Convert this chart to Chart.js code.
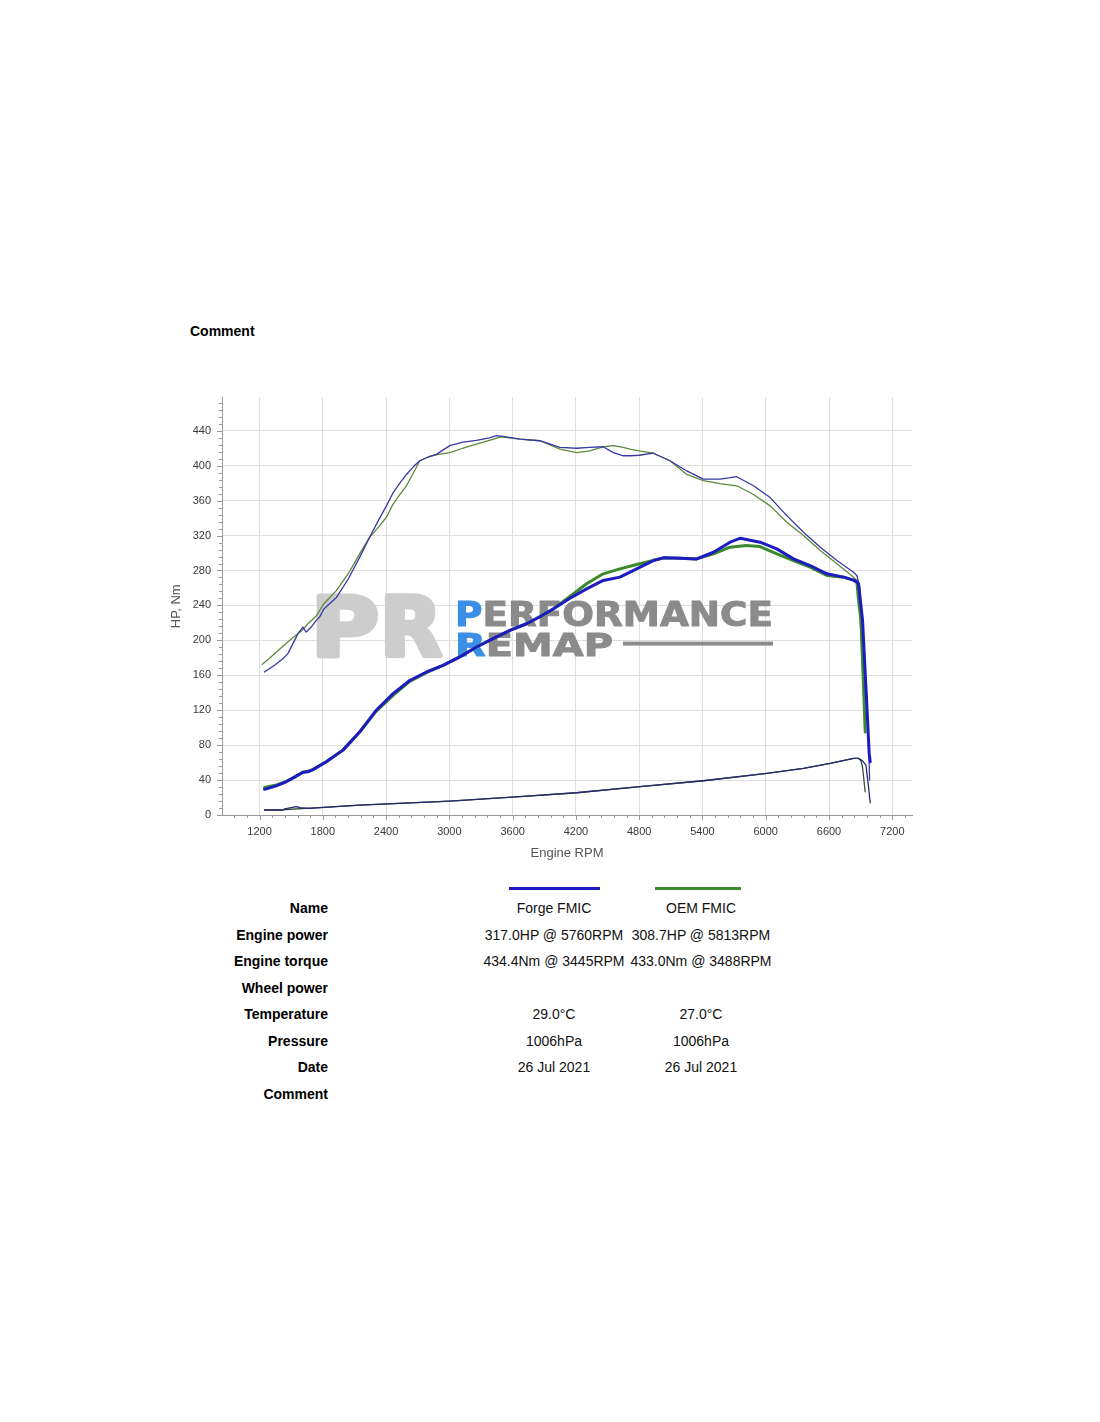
<!DOCTYPE html>
<html>
<head>
<meta charset="utf-8">
<title>Forge FMIC vs OEM FMIC</title>
<script src="https://cdn.jsdelivr.net/npm/chart.js@4.4.1/dist/chart.umd.min.js"></script>
<style>
  html, body { margin: 0; padding: 0; background: #fff; }
  body { position: relative; width: 1100px; height: 1422px; font-family: "Liberation Sans", Arial, sans-serif; color: #000; }
  #comment { position: absolute; left: 190px; top: 322px; font-weight: bold; font-size: 14px; line-height: 18px; }
  #wrap { position: absolute; left: 160px; top: 380px; width: 760px; height: 500px; }
  .swatch { position: absolute; top: 887px; height: 3px; }
  #table { position: absolute; left: 0; top: 895px; width: 1100px; }
  .row { position: relative; height: 26.5px; line-height: 26.5px; font-size: 14px; white-space: nowrap; }
  .row .lab { position: absolute; left: 128px; width: 200px; text-align: right; font-weight: bold; }
  .row .v1 { position: absolute; left: 471px; width: 166px; text-align: center; color: #111; }
  .row .v2 { position: absolute; left: 618px; width: 166px; text-align: center; color: #111; }
</style>
</head>
<body>
<div id="comment">Comment</div>
<div id="wrap"><canvas id="dyno" width="760" height="500"></canvas></div>
<div class="swatch" id="swForge"></div>
<div class="swatch" id="swOem"></div>
<div id="table"></div>

<script>
// ---- run names and colours ----
const runNames = ['Forge FMIC', 'OEM FMIC'];
const forgeColor = '#1c1cc0';
const oemColor = '#3a8a2c';
const forgeTorqueColor = '#3838a6';
const oemTorqueColor = '#5a8a3c';
const forgeLossColor = '#28286e';
const oemLossColor = '#354f36';

// ---- axis ticks ----
const rpmTicks = [1200, 1800, 2400, 3000, 3600, 4200, 4800, 5400, 6000, 6600, 7200];
const valueTicks = [0, 40, 80, 120, 160, 200, 240, 280, 320, 360, 400, 440];

// ---- Forge FMIC: engine torque (Nm) ----
const forgeTorqueRpm = [1247,1342,1421,1469,1532,1564,1611,1643,1690,1738,1770,1810,1928,2040,2149,2244,2330,2403,2466,2530,2593,2660,2719,2800,2877,3004,3130,3257,3380,3445,3510,3668,3858,4048,4206,4330,4459,4554,4650,4712,4800,4934,5092,5251,5409,5567,5650,5725,5884,6042,6200,6358,6517,6675,6833,6865,6890,6918,6950,6975,6985];
const forgeTorque = [163.8,171.4,179,184.8,200,207.6,215.2,209.5,215.2,222.9,226.7,236,249,270,295,318,338,354,369,380,390,399,405.7,410,413,423,427,429,432,434.4,433.5,430.5,428.6,421,420,421,421.7,415,411.4,411.4,412,414.3,405.7,394,384.7,384.7,386,387.4,377,363.5,342.8,323.8,306.7,291.4,278,274,262,215,150,85,40];

// ---- OEM FMIC: engine torque (Nm) ----
const oemTorqueRpm = [1226,1300,1400,1500,1600,1659,1738,1810,1928,2040,2149,2244,2330,2403,2466,2530,2593,2660,2719,2800,2877,3004,3130,3257,3380,3488,3668,3858,4048,4206,4330,4459,4554,4650,4712,4800,4934,5092,5251,5409,5567,5725,5884,6042,6200,6358,6517,6675,6833,6865,6885,6905,6925,6943];
const oemTorque = [172.6,180,191,201.5,211,219,228,242,257,276,299,318,330,341,356,367,377,392,405.7,410,412.5,415,420,424.6,429,433,430.5,428.6,419,415,417,421.7,423,421,419,417,414.3,405.7,390,382.8,379.6,377,367,354,335.2,320,302.9,287.6,272.4,268.6,250,200,145,95];

// ---- Forge FMIC: engine power (HP) ----
const forgePowerRpm = [1247,1350,1453,1540,1611,1659,1706,1833,1991,2149,2307,2466,2624,2783,2940,3099,3257,3415,3574,3732,3858,3984,4140,4301,4459,4617,4776,4934,5029,5187,5346,5504,5662,5760,5946,6105,6263,6421,6580,6738,6833,6865,6880,6918,6950,6981,6991];
const forgePower = [29.4,33,38,44,49,49.5,52,61,74.3,95,120,139,154,163.8,171.4,181,192.4,202,211.4,219,227,236,248,259,268.6,272.4,281.9,291.4,294.5,294,293.3,300.9,312.4,317,312.4,304.8,293.3,285.7,276.2,272.4,269,266.7,264.8,223,146.7,70.5,61];

// ---- OEM FMIC: engine power (HP) ----
const oemPowerRpm = [1247,1350,1453,1540,1611,1659,1706,1833,1991,2149,2307,2466,2624,2783,2940,3099,3257,3415,3574,3732,3858,3984,4140,4301,4459,4617,4776,4934,5029,5187,5346,5504,5662,5813,5946,6105,6263,6421,6580,6738,6833,6865,6880,6903,6928,6943];
const oemPower = [31.5,34,38.5,44,49,50,52,61,74.3,95,119,137,153,163,171.4,181,192.4,202,211.4,219,227,236,250,264.8,276.2,281.9,286.9,291.4,294.5,294,293.3,299,306.7,308.7,307.4,299,291.4,283.8,274.3,272.4,269,266.7,245.7,223,146.7,95];

// ---- Forge FMIC: loss trace ----
const forgeLossRpm = [1247,1421,1440,1500,1548,1600,1675,2149,3004,3668,4206,4807,5409,6010,6358,6612,6833,6880,6918,6950,6975,6991];
const forgeLoss = [5.7,5.7,7,8.5,9.5,8,7.6,11.4,16,21,25.5,32.4,39.2,47.6,53.3,59,64.8,64.8,62,57,32,14];

// ---- OEM FMIC: loss trace ----
const oemLossRpm = [1247,1421,1675,2149,3004,3668,4206,4807,5409,6010,6358,6612,6833,6880,6903,6918,6943];
const oemLoss = [5.7,6,7.8,11.4,16,21,25.5,32.4,39.2,47.6,53.3,59,64.8,64.8,62,55,26.6];

// ---- summary table ----
const rowLabels = ['Name', 'Engine power', 'Engine torque', 'Wheel power', 'Temperature', 'Pressure', 'Date', 'Comment'];
const forgeInfo = ['Forge FMIC', '317.0HP @ 5760RPM', '434.4Nm @ 3445RPM', '', '29.0°C', '1006hPa', '26 Jul 2021', ''];
const oemInfo = ['OEM FMIC', '308.7HP @ 5813RPM', '433.0Nm @ 3488RPM', '', '27.0°C', '1006hPa', '26 Jul 2021', ''];

const FONT = '"Liberation Sans", Arial, sans-serif';

function pts(xs, ys) { return xs.map((x, i) => ({ x: x, y: ys[i] })); }

function line(label, xs, ys, color, width, order) {
  return {
    label: label,
    data: pts(xs, ys),
    borderColor: color,
    backgroundColor: color,
    borderWidth: width,
    pointRadius: 0,
    fill: false,
    tension: 0,
    borderJoinStyle: 'round',
    borderCapStyle: 'round',
    order: order
  };
}

// tick marks along both axes: majors on labelled values, minors in between
const axisTicks = {
  id: 'axisTicks',
  afterDraw(chart) {
    const { ctx, chartArea: a, scales: { x, y } } = chart;
    ctx.save();
    ctx.strokeStyle = '#9a9a9a';
    ctx.lineWidth = 1;
    ctx.beginPath();
    for (let v = 0; v <= y.max; v += 8) {
      const py = Math.round(y.getPixelForValue(v)) + 0.5;
      const len = (v % 40 === 0) ? 5 : 3;
      ctx.moveTo(a.left - len, py);
      ctx.lineTo(a.left, py);
    }
    for (let v = Math.ceil(x.min / 120) * 120; v <= x.max; v += 120) {
      const px = Math.round(x.getPixelForValue(v)) + 0.5;
      const len = (v % 600 === 0) ? 5 : 3;
      ctx.moveTo(px, a.bottom);
      ctx.lineTo(px, a.bottom + len);
    }
    ctx.stroke();
    ctx.restore();
  }
};

// Performance Remap badge, painted over the grid and under the traces
const brandMark = {
  id: 'brandMark',
  beforeDatasetsDraw(chart) {
    const { ctx, chartArea: a } = chart;
    const ox = a.left, oy = a.top;
    ctx.save();
    ctx.textBaseline = 'alphabetic';
    ctx.lineJoin = 'round';

    function fitted(text, x, base, width, font, fill, stroke) {
      ctx.font = font;
      const w = ctx.measureText(text).width;
      ctx.save();
      ctx.translate(x, base);
      ctx.scale(width / w, 1);
      ctx.fillStyle = fill;
      if (stroke) {
        ctx.strokeStyle = fill;
        ctx.lineWidth = stroke;
        ctx.strokeText(text, 0, 0);
      }
      ctx.fillText(text, 0, 0);
      ctx.restore();
    }

    // big metallic "PR"
    const g = ctx.createLinearGradient(0, oy + 198, 0, oy + 261);
    g.addColorStop(0, '#cdcdcd');
    g.addColorStop(0.25, '#b3b3b3');
    g.addColorStop(0.5, '#979797');
    g.addColorStop(0.7, '#acacac');
    g.addColorStop(0.85, '#939393');
    g.addColorStop(1, '#a3a3a3');
    fitted('P', ox + 89, oy + 258, 68, 'bold 82px "DejaVu Sans"', g, 5);
    fitted('R', ox + 158, oy + 258, 62, 'bold 82px "DejaVu Sans"', g, 5);

    // PERFORMANCE / REMAP with blue initials
    function word(text, x, base, width, size) {
      const f = 'bold ' + size + 'px "DejaVu Sans"';
      ctx.font = f;
      const total = ctx.measureText(text).width;
      const k = width / total;
      const first = ctx.measureText(text[0]).width * k;
      fitted(text[0], x, base, first, f, '#3b8fe4', 1);
      fitted(text.slice(1), x + first, base, width - first, f, '#8b8b8b', 1);
    }
    word('PERFORMANCE', ox + 233, oy + 228, 318, 34);
    word('REMAP', ox + 233, oy + 258, 158, 32);

    // rule after REMAP
    ctx.fillStyle = '#8b8b8b';
    ctx.fillRect(ox + 401, oy + 244, 150, 4);
    ctx.restore();
  }
};

const datasets = [
  line(runNames[1] + ' loss', oemLossRpm, oemLoss, oemLossColor, 1.3, 6),
  line(runNames[0] + ' loss', forgeLossRpm, forgeLoss, forgeLossColor, 1.3, 5),
  line(runNames[1] + ' torque', oemTorqueRpm, oemTorque, oemTorqueColor, 1.3, 4),
  line(runNames[0] + ' torque', forgeTorqueRpm, forgeTorque, forgeTorqueColor, 1.3, 3),
  line(runNames[1] + ' power', oemPowerRpm, oemPower, oemColor, 3, 2),
  line(runNames[0] + ' power', forgePowerRpm, forgePower, forgeColor, 3, 1)
];

new Chart(document.getElementById('dyno'), {
  type: 'line',
  data: { datasets: datasets },
  options: {
    responsive: false,
    animation: false,
    devicePixelRatio: 1,
    layout: { padding: { top: 17, right: 8, left: 0, bottom: 0 } },
    plugins: { legend: { display: false }, tooltip: { enabled: false } },
    scales: {
      x: {
        type: 'linear',
        min: 844,
        max: 7387,
        afterBuildTicks: s => { s.ticks = rpmTicks.map(v => ({ value: v })); },
        afterFit: s => { s.height = 65; },
        grid: { color: '#dedede', lineWidth: 1, drawTicks: false },
        border: { color: '#9a9a9a', width: 1 },
        ticks: {
          padding: 10, color: '#3a3a3a', autoSkip: false, maxRotation: 0,
          font: { family: FONT, size: 11 },
          callback: v => String(v)
        },
        title: {
          display: true, text: 'Engine RPM', color: '#555',
          font: { family: FONT, size: 13 },
          padding: { top: 0, bottom: 19 }
        }
      },
      y: {
        type: 'linear',
        min: 0,
        max: 478,
        afterBuildTicks: s => { s.ticks = valueTicks.map(v => ({ value: v })); },
        afterFit: s => { s.width = 62; },
        grid: { color: '#dedede', lineWidth: 1, drawTicks: false },
        border: { color: '#9a9a9a', width: 1 },
        ticks: {
          padding: 11, color: '#3a3a3a',
          font: { family: FONT, size: 11 },
          callback: v => String(v)
        },
        title: {
          display: true, text: 'HP, Nm', color: '#555',
          font: { family: FONT, size: 13 },
          padding: { top: 9, bottom: 0 }
        }
      }
    }
  },
  plugins: [brandMark, axisTicks]
});

// legend swatches above the table columns
const swF = document.getElementById('swForge');
swF.style.left = '509px'; swF.style.width = '91px'; swF.style.background = forgeColor;
const swO = document.getElementById('swOem');
swO.style.left = '655px'; swO.style.width = '86px'; swO.style.background = oemColor;

// summary table
const table = document.getElementById('table');
rowLabels.forEach((lab, i) => {
  const r = document.createElement('div');
  r.className = 'row';
  const a = document.createElement('div'); a.className = 'lab'; a.textContent = lab;
  const b = document.createElement('div'); b.className = 'v1'; b.textContent = forgeInfo[i];
  const c = document.createElement('div'); c.className = 'v2'; c.textContent = oemInfo[i];
  r.appendChild(a); r.appendChild(b); r.appendChild(c);
  table.appendChild(r);
});
</script>
</body>
</html>
